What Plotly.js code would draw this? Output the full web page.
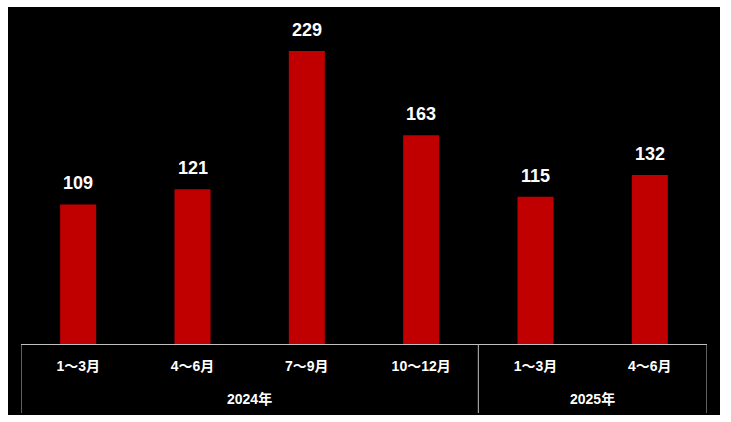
<!DOCTYPE html>
<html>
<head>
<meta charset="utf-8">
<script src="https://cdn.plot.ly/plotly-3.0.1.min.js"></script>
<style>
html,body{margin:0;padding:0;background:#ffffff;}
#chart{position:absolute;left:8px;top:7px;width:712px;height:408px;}
</style>
</head>
<body>
<div id="chart"></div>
<script>
const years = ["2024年","2024年","2024年","2024年","2025年","2025年"];
const quarters = ["1～3月","4～6月","7～9月","10～12月","1～3月","4～6月"];
const values = [109,121,229,163,115,132];

const FONT = "Liberation Sans, Arial, 'Noto Sans CJK JP', sans-serif";
const idx = values.map((_, i) => i);

// groups from years
const groups = [];
years.forEach((y, i) => {
  const g = groups[groups.length - 1];
  if (g && g.name === y) g.end = i; else groups.push({name: y, start: i, end: i});
});

const plotH = 337;
const divBottom = -69 / plotH;
const groupLabelY = -55 / plotH;

const shapes = [];
shapes.push({type: "line", xref: "x", yref: "paper", x0: -0.5, x1: -0.5, y0: 0, y1: divBottom, line: {color: "#bfbfbf", width: 1}});
groups.forEach(g => {
  shapes.push({type: "line", xref: "x", yref: "paper", x0: g.end + 0.5, x1: g.end + 0.5, y0: 0, y1: divBottom, line: {color: "#bfbfbf", width: 1}});
});

const annotations = values.map((v, i) => ({
  x: i, y: v, xref: "x", yref: "y",
  text: String(v), showarrow: false, yanchor: "bottom", yshift: 9,
  font: {family: FONT, size: 18, color: "#ffffff", weight: "bold"}
}));
groups.forEach(g => {
  annotations.push({
    x: (g.start + g.end) / 2, y: groupLabelY, xref: "x", yref: "paper",
    text: g.name, showarrow: false, yanchor: "middle",
    font: {family: FONT, size: 14, color: "#ffffff", weight: "bold"}
  });
});

const trace = {
  type: "bar", x: idx, y: values,
  marker: {color: "#C00000"}, width: 0.315, hoverinfo: "skip"
};

const layout = {
  width: 712, height: 408,
  paper_bgcolor: "#000000", plot_bgcolor: "#000000",
  margin: {l: 13, r: 13, t: 0, b: 71},
  showlegend: false,
  xaxis: {
    range: [-0.5, 5.5],
    tickmode: "array", tickvals: idx, ticktext: quarters,
    showline: true, linecolor: "#bfbfbf", linewidth: 1,
    showgrid: false, zeroline: false, ticks: "",
    ticklabelstandoff: 9,
    tickfont: {family: FONT, size: 14, color: "#ffffff", weight: "bold"}
  },
  yaxis: {range: [0, 263.3], visible: false, showgrid: false, zeroline: false},
  shapes: shapes,
  annotations: annotations
};

Plotly.newPlot("chart", [trace], layout, {displayModeBar: false, staticPlot: true});
</script>
</body>
</html>
